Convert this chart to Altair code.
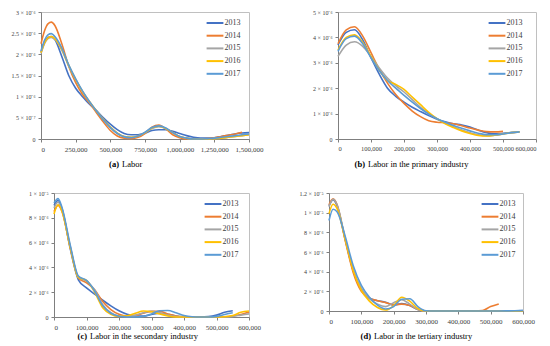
import altair as alt
import pandas as pd

YEARS = ["2013", "2014", "2015", "2016", "2017"]
COLORS = ["#4472C4", "#ED7D31", "#A5A5A5", "#FFC000", "#5B9BD5"]
SERIF = "Liberation Serif"

# ---------------- panel (a) Labor: x in thousands, density in 1e-6 ----------------
A_X = [0, 25, 50, 75, 100, 150, 200, 250, 300, 350, 400, 450, 500, 550, 600, 650, 700,
       750, 800, 850, 900, 950, 1000, 1050, 1100, 1150, 1200, 1250, 1300, 1350, 1400, 1450, 1500]
A_2013 = [2.05, 2.28, 2.40, 2.42, 2.35, 1.95, 1.50, 1.20, 1.00, 0.82, 0.67, 0.50, 0.35, 0.22, 0.13, 0.10, 0.10,
          0.14, 0.20, 0.22, 0.22, 0.18, 0.13, 0.08, 0.04, 0.02, 0.02, 0.03, 0.06, 0.09, 0.12, 0.14, 0.15]
A_2014 = [2.25, 2.55, 2.72, 2.76, 2.68, 2.25, 1.72, 1.33, 1.05, 0.85, 0.62, 0.40, 0.20, 0.07, 0.02, 0.01, 0.04,
          0.13, 0.28, 0.33, 0.24, 0.10, 0.03, 0.00, 0.00, 0.00, 0.01, 0.03, 0.06, 0.09, 0.12, 0.16, None]
A_2015 = [2.02, 2.25, 2.37, 2.40, 2.35, 2.10, 1.72, 1.40, 1.12, 0.88, 0.66, 0.46, 0.28, 0.14, 0.06, 0.04, 0.07,
          0.15, 0.25, 0.29, 0.25, 0.15, 0.06, 0.02, 0.00, 0.00, 0.00, 0.01, 0.02, 0.04, 0.06, 0.08, 0.10]
A_2016 = [2.04, 2.27, 2.39, 2.42, 2.37, 2.12, 1.74, 1.41, 1.12, 0.88, 0.66, 0.46, 0.28, 0.14, 0.06, 0.04, 0.07,
          0.15, 0.26, 0.30, 0.25, 0.15, 0.06, 0.02, 0.00, 0.00, 0.00, 0.01, 0.02, 0.04, 0.06, 0.08, 0.10]
A_2017 = [2.08, 2.33, 2.46, 2.49, 2.42, 2.15, 1.75, 1.42, 1.13, 0.88, 0.66, 0.45, 0.27, 0.13, 0.05, 0.03, 0.07,
          0.16, 0.27, 0.31, 0.26, 0.15, 0.06, 0.02, 0.00, 0.00, 0.01, 0.02, 0.04, 0.06, 0.08, 0.10, 0.12]

# ---------------- panel (b) primary industry ----------------
B_X = [0, 25, 50, 75, 100, 125, 150, 175, 200, 225, 250, 275, 300, 325, 350, 375, 400, 425, 450, 475, 500, 525, 550]
B_2013 = [3.70, 4.20, 4.30, 3.90, 3.20, 2.55, 2.00, 1.68, 1.45, 1.25, 1.08, 0.92, 0.78, 0.68, 0.60, 0.55, 0.47,
          0.35, 0.25, 0.20, 0.22, 0.25, 0.28]
B_2014 = [3.75, 4.30, 4.42, 4.05, 3.40, 2.75, 2.20, 1.75, 1.40, 1.10, 0.88, 0.72, 0.66, 0.64, 0.60, 0.52, 0.43,
          0.35, 0.29, 0.28, 0.30, None, None]
B_2015 = [3.25, 3.70, 3.83, 3.65, 3.25, 2.80, 2.40, 2.10, 1.85, 1.55, 1.25, 1.00, 0.80, 0.63, 0.48, 0.35, 0.25,
          0.17, 0.13, 0.15, 0.20, 0.25, 0.28]
B_2016 = [3.50, 4.00, 4.10, 3.80, 3.25, 2.70, 2.30, 2.15, 1.95, 1.65, 1.35, 1.05, 0.80, 0.60, 0.45, 0.32, 0.22,
          0.14, 0.12, 0.15, 0.20, 0.25, 0.28]
B_2017 = [3.45, 3.95, 4.05, 3.75, 3.20, 2.70, 2.30, 2.00, 1.72, 1.45, 1.20, 0.98, 0.80, 0.66, 0.53, 0.42, 0.32,
          0.23, 0.17, 0.17, 0.20, 0.25, 0.28]

# ---------------- panel (c) secondary industry ----------------
C_X = [0, 12.5, 25, 50, 75, 100, 125, 150, 175, 200, 225, 250, 275, 300, 325, 350, 375, 400, 425, 450,
       475, 500, 525, 550, 575, 600]
C_2013 = [9.00, 9.40, 8.70, 5.50, 3.00, 2.35, 1.85, 1.35, 0.90, 0.50, 0.22, 0.08, 0.08, 0.20, 0.30, 0.22, 0.08,
          0.02, 0.00, 0.00, 0.03, 0.15, 0.38, 0.50, None, None]
C_2014 = [8.50, 9.00, 8.50, 5.60, 3.15, 2.75, 2.20, 1.25, 0.60, 0.22, 0.08, 0.12, 0.30, 0.45, 0.45, 0.25, 0.08,
          0.01, 0.00, 0.00, 0.00, 0.00, 0.02, 0.08, 0.20, 0.40]
C_2015 = [8.80, 9.25, 8.60, 5.70, 3.20, 2.90, 2.20, 1.00, 0.35, 0.08, 0.05, 0.15, 0.35, 0.45, 0.35, 0.15, 0.03,
          0.00, 0.00, 0.00, 0.00, 0.00, 0.00, 0.05, 0.15, 0.25]
C_2016 = [8.30, 9.05, 8.50, 5.60, 3.20, 2.95, 2.00, 0.75, 0.22, 0.05, 0.10, 0.30, 0.48, 0.42, 0.25, 0.08, 0.00,
          0.00, 0.00, 0.00, 0.00, 0.00, 0.02, 0.12, 0.38, 0.48]
C_2017 = [9.20, 9.55, 8.80, 5.80, 3.30, 2.95, 2.10, 0.90, 0.30, 0.06, 0.00, 0.00, 0.05, 0.25, 0.50, 0.52, 0.35,
          0.12, 0.02, 0.00, 0.00, 0.05, 0.20, 0.35, None, None]

# ---------------- panel (d) tertiary industry ----------------
D_X = C_X
D_2013 = [10.70, 11.30, 10.70, 7.30, 4.10, 2.20, 1.30, 1.05, 0.90, 0.60, 0.75, 0.55, 0.15, 0.00, 0.00, 0.00,
          0.00, 0.00, 0.00, 0.00, 0.00, 0.00, 0.00, 0.01, 0.02, 0.05]
D_2014 = [10.80, 11.40, 10.80, 7.20, 3.90, 2.00, 1.30, 1.05, 0.85, 0.65, 0.70, 0.55, 0.15, 0.00, 0.00, 0.00,
          0.00, 0.00, 0.00, 0.00, 0.05, 0.45, 0.72, None, None, None]
D_2015 = [10.60, 11.35, 10.80, 7.40, 4.20, 2.30, 1.25, 0.70, 0.45, 0.85, 1.15, 0.70, 0.15, 0.00, 0.00, 0.00,
          0.00, 0.00, 0.00, 0.00, 0.00, 0.00, 0.00, 0.00, 0.01, 0.02]
D_2016 = [9.90, 10.85, 10.40, 7.30, 4.10, 2.10, 1.00, 0.35, 0.10, 0.55, 1.40, 1.00, 0.25, 0.00, 0.00, 0.00,
          0.00, 0.00, 0.00, 0.00, 0.00, 0.00, 0.00, 0.00, 0.00, 0.00]
D_2017 = [9.20, 10.35, 10.10, 7.60, 4.60, 2.60, 1.40, 0.60, 0.20, 0.45, 1.20, 1.25, 0.45, 0.02, 0.00, 0.00,
          0.00, 0.00, 0.00, 0.00, 0.00, 0.00, 0.00, 0.01, 0.03, 0.05]

A_XTICKS = [0, 250000, 500000, 750000, 1000000, 1250000, 1500000]
BCD_XTICKS = [0, 100000, 200000, 300000, 400000, 500000, 600000]
A_YTICKS = [0, 0.5, 1, 1.5, 2, 2.5, 3]
B_YTICKS = [0, 1, 2, 3, 4, 5]
C_YTICKS = [0, 2, 4, 6, 8, 10]
D_YTICKS = [0, 2, 4, 6, 8, 10, 12]

CAPTIONS = [("(a)", "Labor"), ("(b)", "Labor in the primary industry"),
            ("(c)", "Labor in the secondary industry"), ("(d)", "Labor in the tertiary industry")]

LABEL_EXPR = ("datum.value == 0 ? '0' : datum.value < 0.999 ? format(datum.value * 10, '~g') + ' × 10⁻⁷' : "
              "datum.value < 9.999 ? format(datum.value, '~g') + ' × 10⁻⁶' : "
              "format(datum.value / 10, '~g') + ' × 10⁻⁵'")


def panel(xs, series, xmax, xticks, yticks, ymax, W, H, extent, legx, caption, cap_x, cap_y,
          centered=True, xfont=7):
    rows = []
    for year, ys in zip(YEARS, series):
        for x, y in zip(xs, ys):
            if y is not None:
                rows.append({"x": x * 1000, "y": y, "year": year})
    df = pd.DataFrame(rows)
    xaxis_kw = dict(values=xticks, format=",d", title=None, labelOverlap=False, labelFlush=True,
                    labelFontSize=xfont, labelPadding=3)
    if centered:
        xaxis_kw["labelAlign"] = {"condition": {"test": "datum.value === 0", "value": "left"},
                                  "value": "center"}
    line = alt.Chart(df).mark_line(interpolate="monotone", strokeWidth=1.6).encode(
        x=alt.X("x:Q", scale=alt.Scale(domain=[0, xmax], nice=False), axis=alt.Axis(**xaxis_kw)),
        y=alt.Y("y:Q", scale=alt.Scale(domain=[0, ymax], nice=False),
                axis=alt.Axis(values=yticks, labelExpr=LABEL_EXPR, title=None, labelOverlap=False,
                              minExtent=extent, maxExtent=extent, labelFontSize=6, labelPadding=3)),
        color=alt.Color("year:N", scale=alt.Scale(domain=YEARS, range=COLORS),
                        legend=alt.Legend(title=None, orient="none", legendX=legx, legendY=4,
                                          symbolType="M-1.4,0H1.4", symbolSize=144,
                                          symbolStrokeWidth=2, labelFont=SERIF, labelFontSize=8,
                                          labelColor="#404040", labelOffset=2.5, rowPadding=1.7,
                                          padding=0)),
    )
    bold, text = caption
    cap1 = alt.Chart(pd.DataFrame({"t": [bold]})).mark_text(
        align="right", baseline="middle", fontWeight="bold", font=SERIF, fontSize=8.5, color="#000000"
    ).encode(x=alt.value(cap_x), y=alt.value(H + cap_y), text="t:N")
    cap2 = alt.Chart(pd.DataFrame({"t": [text]})).mark_text(
        align="left", baseline="middle", font=SERIF, fontSize=8.5, color="#000000"
    ).encode(x=alt.value(cap_x + 3), y=alt.value(H + cap_y), text="t:N")
    return alt.layer(line, cap1, cap2).properties(width=W, height=H)


pa = panel(A_X, [A_2013, A_2014, A_2015, A_2016, A_2017], 1500000, A_XTICKS, A_YTICKS, 3,
           208, 127, 32, 167, CAPTIONS[0], 78, 25)
pb = panel(B_X, [B_2013, B_2014, B_2015, B_2016, B_2017], 600000, BCD_XTICKS, B_YTICKS, 5,
           198, 127, 47, 152, CAPTIONS[1], 27, 25, centered=False, xfont=6.5)
pc = panel(C_X, [C_2013, C_2014, C_2015, C_2016, C_2017], 600000, BCD_XTICKS, C_YTICKS, 10,
           195, 124, 45, 152, CAPTIONS[2], 33, 19)
pd_ = panel(D_X, [D_2013, D_2014, D_2015, D_2016, D_2017], 600000, BCD_XTICKS, D_YTICKS, 12,
            194, 118, 40, 154, CAPTIONS[3], 42, 25)

# an empty, invisible strip that pushes the lower row 13px to the right
spacer = alt.Chart(pd.DataFrame({"v": [0]})).mark_point(opacity=0, size=0).encode(
    x=alt.value(0), y=alt.value(0)
).properties(width=13, height=124, view=alt.ViewBackground(stroke="transparent"))

row1 = alt.hconcat(pa, pb, spacing=89, bounds="flush").resolve_scale(color="independent").resolve_legend(color="independent")
inner2 = alt.hconcat(pc, pd_, spacing=80, bounds="flush").resolve_scale(color="independent").resolve_legend(color="independent")
row2 = alt.hconcat(spacer, inner2, spacing=0, bounds="flush").resolve_scale(color="independent").resolve_legend(color="independent")

chart = alt.vconcat(row1, row2, spacing=20).resolve_scale(
    color="independent"
).resolve_legend(
    color="independent"
).properties(padding=0).configure(
    font=SERIF,
).configure_axis(
    grid=False, labelFont=SERIF, labelColor="#404040", domainColor="#7f7f7f", tickColor="#7f7f7f",
    tickSize=3, domainWidth=1, labelOverlap=False,
).configure_view(
    stroke="#c0c0c0", strokeWidth=1,
)

chart.save("out.html", embed_options={"renderer": "svg", "actions": False})
